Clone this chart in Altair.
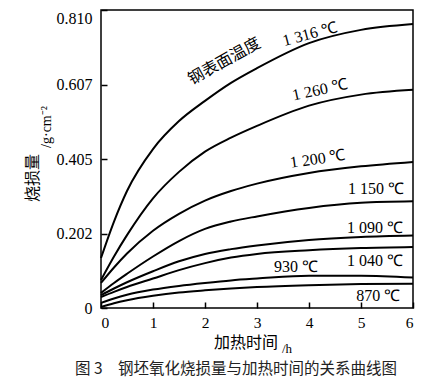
import altair as alt
import pandas as pd

hours = [0, 0.25, 0.5, 1, 1.5, 2, 2.5, 3, 4, 5, 6]
t1316 = [0.136, 0.235, 0.318, 0.432, 0.508, 0.563, 0.612, 0.652, 0.720, 0.756, 0.772]
t1260 = [0.076, 0.140, 0.198, 0.298, 0.370, 0.425, 0.463, 0.495, 0.550, 0.580, 0.593]
t1200 = [0.068, 0.110, 0.148, 0.210, 0.256, 0.292, 0.318, 0.338, 0.367, 0.385, 0.397]
t1150 = [0.041, 0.068, 0.093, 0.140, 0.182, 0.215, 0.235, 0.249, 0.272, 0.286, 0.290]
t1090 = [0.035, 0.053, 0.070, 0.100, 0.127, 0.147, 0.160, 0.170, 0.185, 0.193, 0.197]
t1040 = [0.030, 0.044, 0.057, 0.080, 0.103, 0.122, 0.137, 0.147, 0.157, 0.163, 0.166]
t930 = [0.014, 0.026, 0.036, 0.050, 0.060, 0.068, 0.075, 0.080, 0.088, 0.088, 0.083]
t870 = [0.003, 0.013, 0.021, 0.033, 0.042, 0.048, 0.053, 0.057, 0.062, 0.065, 0.066]

series = {"1316": t1316, "1260": t1260, "1200": t1200, "1150": t1150,
          "1090": t1090, "1040": t1040, "930": t930, "870": t870}

label_text = ["钢表面温度", "1 316 ℃", "1 260 ℃", "1 200 ℃", "1 150 ℃",
              "1 090 ℃", "1 040 ℃", "930 ℃", "870 ℃"]
label_x = [2.37, 4.02, 4.21, 4.17, 5.29, 5.27, 5.27, 3.75, 5.33]
label_y = [0.671, 0.745, 0.593, 0.405, 0.323, 0.217, 0.128, 0.111, 0.033]
label_angle = [331, 345, 348, 352, 0, 0, 0, 0, 0]

y_ticks = [0, 0.202, 0.405, 0.607, 0.810]
x_ticks = [0, 1, 2, 3, 4, 5, 6]

SERIF = "'Liberation Serif', 'Times New Roman', Times, serif"
CJK = "'Noto Sans CJK SC', sans-serif"

rows = []
for name, vals in series.items():
    for h, v in zip(hours, vals):
        rows.append({"h": h, "v": v, "s": name})
df = pd.DataFrame(rows)

xs = alt.Scale(domain=[0, 6], nice=False)
ys = alt.Scale(domain=[0, 0.81], nice=False)

lines = alt.Chart(df).mark_line(strokeWidth=2, interpolate="monotone").encode(
    x=alt.X("h:Q", scale=xs, axis=alt.Axis(
        values=x_ticks, title=None, grid=False, domain=False,
        tickSize=6, offset=-6, labelPadding=7, tickColor="black",
        labelFont=SERIF, labelFontSize=15.5, labelColor="black",
        tickWidth=1.5)),
    y=alt.Y("v:Q", scale=ys, axis=alt.Axis(
        values=y_ticks, title=None, grid=False, domain=False,
        tickSize=6, offset=-6, labelPadding=9, tickColor="black",
        labelExpr="datum.value == 0 ? '0' : format(datum.value, '.3f')",
        labelBaseline={"condition": {"test": "datum.value > 0.8", "value": "top"},
                       "value": "middle"},
        labelFont=SERIF, labelFontSize=16, labelColor="black",
        tickWidth=1.5)),
    color=alt.Color("s:N", scale=alt.Scale(domain=list(series.keys()),
                                           range=["black"] * len(series)),
                    legend=None),
)

ldf = pd.DataFrame({"t": label_text, "x": label_x, "y": label_y, "a": label_angle})
labels_cn = alt.Chart(ldf.iloc[:1]).mark_text(
    font=CJK, fontSize=16, color="black").encode(
    x=alt.X("x:Q", scale=xs), y=alt.Y("y:Q", scale=ys), text="t:N",
    angle=alt.Angle("a:Q", scale=None))
labels_num = alt.Chart(ldf.iloc[1:]).mark_text(
    font=SERIF, fontSize=16, color="black").encode(
    x=alt.X("x:Q", scale=xs), y=alt.Y("y:Q", scale=ys), text="t:N",
    angle=alt.Angle("a:Q", scale=None))


def txt(s, px, py, font, size, angle=0, color="black"):
    return alt.Chart(pd.DataFrame({"t": [s]})).mark_text(
        font=font, fontSize=size, angle=angle, color=color).encode(
        x=alt.value(px), y=alt.value(py), text="t:N")


ytitle = txt("烧损量", -68, 168, CJK, 16, 270)
ysub = txt("/g·cm⁻²", -54, 117, SERIF, 14, 270)
xtitle = txt("加热时间", 145, 333, CJK, 16)
xsub = txt("/h", 186, 339, SERIF, 13)
caption = txt("图 3　钢坯氧化烧损量与加热时间的关系曲线图", 135, 359,
              CJK, 15.5, 0, "#222222")

chart = alt.layer(lines, labels_cn, labels_num, ytitle, ysub, xtitle, xsub, caption).properties(
    width=312, height=298,
    autosize=alt.AutoSizeParams(type="none"),
    padding={"left": 93, "top": 2, "right": 12, "bottom": 70},
).configure_view(stroke="black", strokeWidth=1.5)

chart.save("out.html", embed_options={"renderer": "svg", "actions": False})
